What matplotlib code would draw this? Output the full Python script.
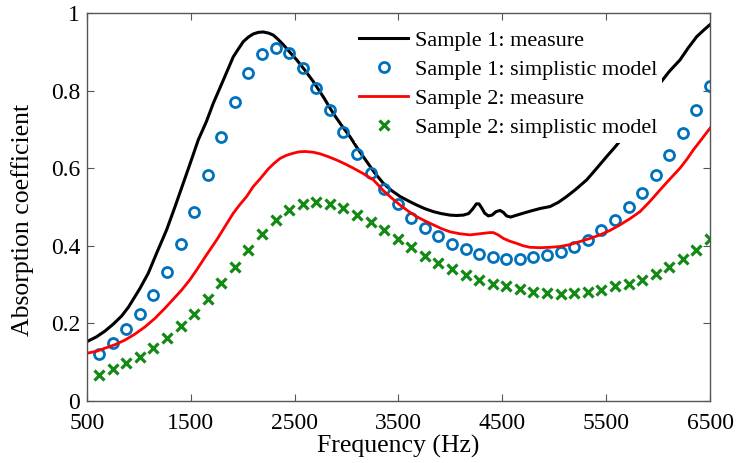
import numpy as np
import matplotlib
matplotlib.use("Agg")
import matplotlib.pyplot as plt

# ------------------------------------------------------------
# Data
# ------------------------------------------------------------

# measured curve, sample 1 (Hz, alpha)
meas1_freq = [500, 590, 673, 753, 834, 900, 962, 1010, 1090, 1171, 1267, 1347,
              1427, 1500, 1572, 1650, 1716, 1813, 1909, 1960, 2005, 2055,
              2102, 2150, 2198, 2250, 2294, 2340, 2391, 2450, 2520, 2600,
              2680, 2780, 2872, 2950, 3033, 3110, 3194, 3270, 3354, 3430,
              3515, 3600, 3675, 3750, 3835, 3910, 3996, 4060, 4124, 4175,
              4215, 4250, 4275, 4300, 4330, 4365, 4400, 4440, 4478, 4510,
              4540, 4580, 4640, 4702, 4780, 4863, 4959, 5040, 5120, 5210,
              5313, 5410, 5505, 5590, 5666, 5760, 5850, 5940, 6019, 6110,
              6211, 6290, 6372, 6440, 6500]
meas1_alpha = [0.153, 0.165, 0.180, 0.198, 0.219, 0.242, 0.269, 0.290, 0.329,
               0.381, 0.441, 0.500, 0.561, 0.617, 0.673, 0.720, 0.767, 0.827,
               0.887, 0.908, 0.926, 0.938, 0.946, 0.950, 0.951, 0.948, 0.943,
               0.932, 0.918, 0.900, 0.879, 0.852, 0.823, 0.782, 0.741, 0.711,
               0.681, 0.649, 0.617, 0.588, 0.561, 0.543, 0.527, 0.515, 0.505,
               0.496, 0.488, 0.483, 0.479, 0.478, 0.479, 0.483, 0.495, 0.508,
               0.508, 0.498, 0.484, 0.477, 0.479, 0.488, 0.491, 0.486, 0.477,
               0.474, 0.479, 0.484, 0.490, 0.496, 0.501, 0.512, 0.527, 0.546,
               0.570, 0.600, 0.630, 0.656, 0.681, 0.717, 0.755, 0.790, 0.819,
               0.850, 0.879, 0.910, 0.939, 0.956, 0.970]

# measured curve, sample 2
meas2_freq = [500, 590, 673, 770, 866, 960, 1059, 1155, 1251, 1330, 1412,
              1490, 1557, 1650, 1749, 1830, 1909, 1975, 2038, 2102, 2166,
              2206, 2246, 2300, 2359, 2420, 2480, 2540, 2600, 2680, 2744,
              2820, 2904, 2985, 3065, 3160, 3257, 3300, 3354, 3430, 3515,
              3595, 3675, 3755, 3835, 3915, 3996, 4090, 4189, 4250, 4317,
              4380, 4413, 4460, 4510, 4570, 4639, 4700, 4767, 4860, 4959,
              5055, 5150, 5248, 5345, 5441, 5540, 5634, 5730, 5826, 5920,
              6019, 6110, 6211, 6280, 6339, 6420, 6500]
meas2_alpha = [0.123, 0.128, 0.136, 0.145, 0.157, 0.172, 0.191, 0.213, 0.239,
               0.262, 0.286, 0.312, 0.338, 0.376, 0.415, 0.450, 0.484, 0.507,
               0.527, 0.553, 0.572, 0.585, 0.598, 0.612, 0.625, 0.633, 0.638,
               0.642, 0.643, 0.641, 0.637, 0.630, 0.621, 0.611, 0.600, 0.586,
               0.570, 0.558, 0.542, 0.524, 0.505, 0.489, 0.475, 0.464, 0.454,
               0.444, 0.436, 0.431, 0.428, 0.430, 0.432, 0.434, 0.434, 0.428,
               0.419, 0.412, 0.406, 0.400, 0.396, 0.395, 0.396, 0.398, 0.403,
               0.411, 0.419, 0.428, 0.440, 0.454, 0.470, 0.488, 0.514, 0.544,
               0.571, 0.600, 0.624, 0.647, 0.675, 0.703]

# simplistic model, evaluated at the same frequencies for both samples
model_freq = [616, 747, 878, 1008, 1139, 1270, 1401, 1531, 1662, 1793, 1924,
              2054, 2185, 2316, 2447, 2577, 2708, 2839, 2970, 3100, 3231,
              3362, 3493, 3623, 3754, 3885, 4016, 4147, 4277, 4408, 4539,
              4670, 4800, 4931, 5062, 5193, 5323, 5454, 5585, 5716, 5846,
              5977, 6108, 6239, 6369, 6500]
model1_alpha = [0.121, 0.149, 0.185, 0.224, 0.274, 0.333, 0.405, 0.488, 0.582,
                0.680, 0.771, 0.846, 0.893, 0.909, 0.896, 0.857, 0.806, 0.750,
                0.692, 0.636, 0.588, 0.546, 0.507, 0.471, 0.445, 0.424, 0.405,
                0.391, 0.379, 0.370, 0.367, 0.367, 0.372, 0.377, 0.385, 0.396,
                0.415, 0.441, 0.466, 0.499, 0.537, 0.582, 0.634, 0.690, 0.750,
                0.812]
model2_alpha = [0.067, 0.082, 0.097, 0.114, 0.136, 0.162, 0.192, 0.224, 0.262,
                0.305, 0.346, 0.389, 0.431, 0.466, 0.492, 0.508, 0.514, 0.508,
                0.497, 0.480, 0.462, 0.441, 0.417, 0.396, 0.374, 0.355, 0.339,
                0.325, 0.312, 0.302, 0.295, 0.288, 0.282, 0.277, 0.276, 0.278,
                0.282, 0.286, 0.295, 0.302, 0.312, 0.327, 0.345, 0.365, 0.389,
                0.417]

series_labels = ["Sample 1: measure", "Sample 1: simplistic model",
                 "Sample 2: measure", "Sample 2: simplistic model"]

x_ticks = [500, 1500, 2500, 3500, 4500, 5500, 6500]
y_ticks = [0, 0.2, 0.4, 0.6, 0.8, 1]
y_tick_labels = ["0", "0.2", "0.4", "0.6", "0.8", "1"]

# ------------------------------------------------------------
# Plot
# ------------------------------------------------------------

plt.rcParams["font.family"] = ["Liberation Serif", "DejaVu Serif"]

fig = plt.figure(figsize=(7.37, 4.63), dpi=100)
ax = fig.add_axes([0.118, 0.134, 0.8454, 0.838])

ax.plot(meas1_freq, meas1_alpha, color="black", lw=2.2,
        solid_joinstyle="round", label=series_labels[0])
ax.plot(model_freq, model1_alpha, ls="none", marker="o", ms=7.2,
        mfc="none", mec="#0072BD", mew=2.0, label=series_labels[1])
ax.plot(meas2_freq, meas2_alpha, color="red", lw=2.0,
        solid_joinstyle="round", label=series_labels[2])
ax.plot(model_freq, model2_alpha, ls="none", marker="x", ms=6.5,
        mec="#138a13", mew=2.3, label=series_labels[3])

ax.set_xlim(500, 6500)
ax.set_ylim(0, 1)
ax.set_xticks(x_ticks)
ax.set_xticklabels([str(t) for t in x_ticks])
ax.set_yticks(y_ticks)
ax.set_yticklabels(y_tick_labels)

ax.tick_params(direction="in", length=5, width=0.8, color="#555555",
               top=True, right=True, labelsize=17)
ax.tick_params(axis="x", pad=9)
ax.tick_params(axis="y", pad=5)
for s in ax.spines.values():
    s.set_color("#555555")
    s.set_linewidth(1.0)

ax.set_xlabel("Frequency (Hz)", fontsize=18.5)
ax.set_ylabel("Absorption coefficient", fontsize=18.5)
ax.xaxis.set_label_coords(0.499, -0.087)
ax.yaxis.set_label_coords(-0.085, 0.466)

leg = ax.legend(loc="upper left", bbox_to_anchor=(0.43, 0.966),
                fontsize=16, frameon=True, fancybox=False,
                handlelength=2.2, handletextpad=0.3, labelspacing=0.38,
                borderpad=0.2, borderaxespad=0.0)
leg.get_frame().set_edgecolor("none")
leg.get_frame().set_facecolor("white")
leg.get_frame().set_alpha(1.0)

fig.savefig("out.png", dpi=100)
